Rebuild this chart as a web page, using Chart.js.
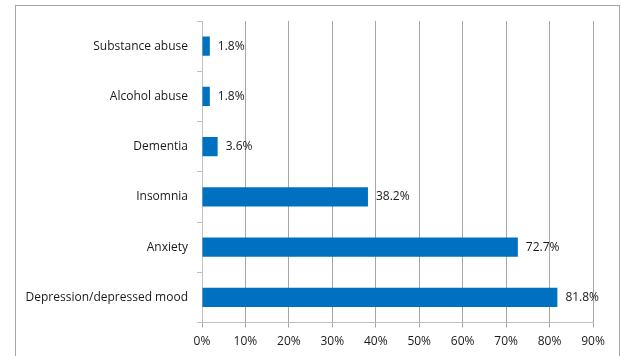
<!DOCTYPE html>
<html>
<head>
<meta charset="utf-8">
<script src="https://cdn.jsdelivr.net/npm/chart.js@4"></script>
<style>
  html, body { margin: 0; padding: 0; background: #fff; }
  #wrap { position: relative; width: 622px; height: 356px; overflow: hidden; }
  #frame { position: absolute; left: 15px; top: 5px; width: 603px; height: 400px; border: 1px solid #a6a6a6; pointer-events: none; }
  canvas { position: absolute; left: 0; top: 0; }
</style>
</head>
<body>
<div id="wrap">
  <div id="frame"></div>
  <canvas id="chart" width="622" height="356"></canvas>
</div>
<script>
const categories = ["Substance abuse", "Alcohol abuse", "Dementia", "Insomnia", "Anxiety", "Depression/depressed mood"];
const percentages = [1.8, 1.8, 3.6, 38.2, 72.7, 81.8];
const xTicks = [0, 10, 20, 30, 40, 50, 60, 70, 80, 90];

const FONT = "'Open Sans', 'Liberation Sans', sans-serif";

// Etiquettes de valeur au bout des barres
const valueLabels = {
    id: "valueLabels",
    afterDatasetsDraw(chart) {
        const ctx = chart.ctx;
        const meta = chart.getDatasetMeta(0);
        ctx.save();
        ctx.font = "12px " + FONT;
        ctx.fillStyle = "#1a1a1a";
        ctx.textAlign = "left";
        ctx.textBaseline = "middle";
        meta.data.forEach((bar, i) => {
            ctx.fillText(percentages[i].toFixed(1) + "%", bar.x + 8, bar.y);
        });
        ctx.restore();
    }
};

new Chart(document.getElementById("chart").getContext("2d"), {
    type: "bar",
    data: {
        labels: categories,
        datasets: [{
            data: percentages,
            backgroundColor: "#0070c0",
            borderWidth: 0,
            barPercentage: 0.76,
            categoryPercentage: 0.5
        }]
    },
    options: {
        indexAxis: "y",
        responsive: false,
        animation: false,
        layout: { padding: { left: 0, top: 21, right: 29, bottom: 0 } },
        plugins: {
            legend: { display: false },
            tooltip: { enabled: false }
        },
        scales: {
            x: {
                min: 0,
                max: 90,
                afterBuildTicks: axis => { axis.ticks = xTicks.map(v => ({ value: v })); },
                afterFit: axis => { axis.height = 33.5; },
                ticks: {
                    callback: v => v + "%",
                    font: { family: FONT, size: 12 },
                    color: "#1a1a1a",
                    padding: 7,
                    maxRotation: 0
                },
                grid: { color: "#a6a6a6", tickLength: 5, lineWidth: 1 },
                border: { color: "#bfbfbf" }
            },
            y: {
                afterFit: axis => { axis.width = 202; },
                ticks: {
                    font: { family: FONT, size: 12 },
                    color: "#1a1a1a",
                    padding: 9
                },
                grid: { drawOnChartArea: false, offset: true, tickLength: 5, color: "#bfbfbf" },
                border: { color: "#bfbfbf" }
            }
        }
    },
    plugins: [valueLabels]
});
</script>
</body>
</html>
